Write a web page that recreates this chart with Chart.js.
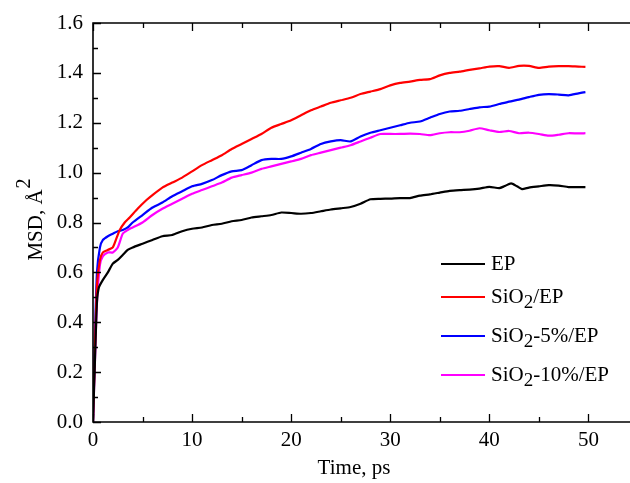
<!DOCTYPE html>
<html>
<head>
<meta charset="utf-8">
<script src="https://cdn.jsdelivr.net/npm/chart.js@4/dist/chart.umd.min.js"></script>
<style>
  html, body { margin: 0; padding: 0; background: #fff; overflow: hidden; }
  #msdChart { display: block; }
</style>
</head>
<body>
<canvas id="msdChart" width="630" height="483"></canvas>
<script>
// tick labels
const xTicks = [0, 10, 20, 30, 40, 50];
const yTicks = [0, 0.2, 0.4, 0.6, 0.8, 1.0, 1.2, 1.4, 1.6];

// series names
const seriesNames = ['EP', 'SiO2/EP', 'SiO2-5%/EP', 'SiO2-10%/EP'];

// EP
const epTime = [0, 0.2, 0.4, 0.6, 1, 1.5, 2, 2.5, 3, 3.5, 4, 5, 6, 7, 8, 9, 10, 11, 12, 13, 14, 15, 16, 17, 18, 19, 20, 21, 22, 23, 24, 25, 26, 27, 28, 29, 30, 31, 32, 33, 34, 35, 36, 37, 38, 39, 40, 41, 41.5, 42.2, 42.8, 43.3, 44, 45, 46, 47, 48, 49, 49.7];
const epMsd = [0, 0.25, 0.48, 0.54, 0.57, 0.6, 0.635, 0.65, 0.67, 0.69, 0.7, 0.715, 0.73, 0.745, 0.75, 0.765, 0.775, 0.78, 0.79, 0.795, 0.805, 0.81, 0.82, 0.825, 0.83, 0.84, 0.838, 0.835, 0.838, 0.845, 0.852, 0.857, 0.862, 0.875, 0.893, 0.895, 0.896, 0.898, 0.898, 0.908, 0.913, 0.92, 0.927, 0.93, 0.932, 0.936, 0.943, 0.938, 0.945, 0.957, 0.945, 0.934, 0.94, 0.945, 0.95, 0.948, 0.942, 0.942, 0.942];

// SiO2/EP
const sioTime = [0, 0.2, 0.4, 0.7, 1, 1.5, 2, 2.4, 2.7, 3.2, 3.7, 4.5, 5.4, 6, 7, 8, 9, 10, 11, 12, 13, 14, 15, 16, 17, 18, 19, 20, 21, 22, 23, 24, 25, 26, 27, 28, 29, 30, 31, 32, 33, 34, 35, 36, 37, 38, 39, 40, 41, 42, 43, 44, 45, 46, 47, 48, 49, 49.7];
const sioMsd = [0, 0.3, 0.55, 0.65, 0.68, 0.69, 0.7, 0.74, 0.77, 0.8, 0.82, 0.855, 0.89, 0.91, 0.94, 0.96, 0.98, 1.005, 1.03, 1.05, 1.07, 1.095, 1.115, 1.135, 1.155, 1.18, 1.195, 1.21, 1.23, 1.25, 1.265, 1.28, 1.29, 1.3, 1.315, 1.325, 1.335, 1.35, 1.36, 1.365, 1.372, 1.375, 1.39, 1.4, 1.405, 1.412, 1.418, 1.425, 1.427, 1.42, 1.428, 1.428, 1.42, 1.425, 1.427, 1.427, 1.425, 1.424];

// SiO2-5%/EP
const sio5Time = [0, 0.2, 0.4, 0.7, 1, 1.5, 2, 2.5, 3, 3.5, 4, 5, 6, 7, 8, 9, 10, 11, 12, 13, 14, 15, 16, 17, 18, 19, 20, 21, 22, 23, 24, 25, 26, 27, 28, 29, 30, 31, 32, 33, 34, 35, 36, 37, 38, 39, 40, 41, 42, 43, 44, 45, 46, 47, 48, 49, 49.7];
const sio5Msd = [0, 0.35, 0.6, 0.7, 0.73, 0.745, 0.755, 0.765, 0.77, 0.78, 0.8, 0.83, 0.86, 0.88, 0.905, 0.925, 0.945, 0.955, 0.97, 0.99, 1.005, 1.01, 1.03, 1.05, 1.055, 1.055, 1.065, 1.08, 1.095, 1.115, 1.125, 1.13, 1.125, 1.145, 1.16, 1.17, 1.18, 1.19, 1.2, 1.205, 1.22, 1.235, 1.245, 1.248, 1.255, 1.262, 1.265, 1.275, 1.285, 1.293, 1.303, 1.312, 1.315, 1.313, 1.31, 1.318, 1.323];

// SiO2-10%/EP
const sio10Time = [0, 0.2, 0.4, 0.7, 1, 1.5, 2, 2.5, 3, 3.5, 4, 5, 6, 7, 8, 9, 10, 11, 12, 13, 14, 15, 16, 17, 18, 19, 20, 21, 22, 23, 24, 25, 26, 27, 28, 29, 30, 31, 32, 33, 34, 35, 36, 37, 38, 39, 40, 41, 42, 43, 44, 45, 46, 47, 48, 49, 49.7];
const sio10Msd = [0, 0.25, 0.48, 0.63, 0.665, 0.68, 0.68, 0.7, 0.755, 0.77, 0.78, 0.8, 0.83, 0.855, 0.875, 0.895, 0.915, 0.93, 0.945, 0.96, 0.98, 0.99, 1.0, 1.015, 1.025, 1.035, 1.045, 1.055, 1.07, 1.08, 1.09, 1.1, 1.11, 1.125, 1.14, 1.155, 1.155, 1.155, 1.156, 1.155, 1.15, 1.158, 1.162, 1.162, 1.168, 1.178, 1.17, 1.163, 1.167, 1.158, 1.16, 1.155, 1.148, 1.152, 1.158, 1.157, 1.158];

const colors = ['#000000', '#ff0000', '#0000ff', '#ff00ff'];

function toPoints(t, v) {
    return t.map((x, i) => ({ x: x, y: v[i] }));
}

const FONT = '"Liberation Serif", "Times New Roman", serif';
const FS = 21;

// text with a lowered "2" for SiO2
function drawSubText(ctx, text, x, y) {
    const parts = text.split('2');
    let cx = x;
    parts.forEach((p, i) => {
        ctx.font = FS + 'px ' + FONT;
        ctx.fillText(p, cx, y);
        cx += ctx.measureText(p).width;
        if (i < parts.length - 1) {
            ctx.font = (FS - 2) + 'px ' + FONT;
            ctx.fillText('2', cx, y + 6);
            cx += ctx.measureText('2').width;
        }
    });
}

const framePlugin = {
    id: 'frame',
    afterDraw(chart) {
        const ctx = chart.ctx;
        const a = chart.chartArea;
        const xs = chart.scales.x;
        const ys = chart.scales.y;
        ctx.save();
        ctx.strokeStyle = '#000';
        ctx.lineWidth = 1.6;
        ctx.beginPath();
        ctx.moveTo(a.right + 2, a.top);
        ctx.lineTo(a.left, a.top);
        ctx.lineTo(a.left, a.bottom);
        ctx.lineTo(a.right + 2, a.bottom);
        ctx.stroke();

        // inward ticks
        ctx.lineWidth = 1.3;
        ctx.beginPath();
        for (let v = 0; v <= 50; v += 5) {
            const px = Math.round(xs.getPixelForValue(v)) + 0.5;
            const len = v % 10 === 0 ? 8 : 5;
            ctx.moveTo(px, a.bottom); ctx.lineTo(px, a.bottom - len);
            ctx.moveTo(px, a.top); ctx.lineTo(px, a.top + len);
        }
        for (let k = 0; k <= 16; k++) {
            const py = Math.round(ys.getPixelForValue(k / 10)) + 0.5;
            const len = k % 2 === 0 ? 8 : 5;
            ctx.moveTo(a.left, py); ctx.lineTo(a.left + len, py);
        }
        ctx.stroke();

        // axis titles
        ctx.fillStyle = '#000';
        ctx.font = FS + 'px ' + FONT;
        ctx.textBaseline = 'middle';
        ctx.textAlign = 'center';
        ctx.fillText('Time, ps', 354, 468);

        ctx.save();
        ctx.translate(32, 220);
        ctx.rotate(-Math.PI / 2);
        ctx.textAlign = 'left';
        const main = 'MSD, Å';
        const w = ctx.measureText(main).width;
        ctx.font = (FS - 1) + 'px ' + FONT;
        const w2 = ctx.measureText('2').width;
        const start = -(w + w2) / 2;
        ctx.font = FS + 'px ' + FONT;
        ctx.fillText(main, start, 4);
        ctx.font = (FS - 1) + 'px ' + FONT;
        ctx.fillText('2', start + w + 1, -7);
        ctx.restore();

        // legend
        const legendY = [264, 297, 336, 375];
        ctx.textAlign = 'left';
        ctx.textBaseline = 'middle';
        seriesNames.forEach((name, i) => {
            ctx.strokeStyle = colors[i];
            ctx.lineWidth = 2;
            ctx.beginPath();
            ctx.moveTo(441, legendY[i]);
            ctx.lineTo(485, legendY[i]);
            ctx.stroke();
            ctx.fillStyle = '#000';
            drawSubText(ctx, name, 491, legendY[i]);
        });
        ctx.restore();
    }
};

const ctx = document.getElementById('msdChart').getContext('2d');
const msdChart = new Chart(ctx, {
    type: 'line',
    data: {
        datasets: [
            { label: seriesNames[0], data: toPoints(epTime, epMsd) },
            { label: seriesNames[1], data: toPoints(sioTime, sioMsd) },
            { label: seriesNames[2], data: toPoints(sio5Time, sio5Msd) },
            { label: seriesNames[3], data: toPoints(sio10Time, sio10Msd) }
        ].map((d, i) => Object.assign(d, {
            borderColor: colors[i],
            borderWidth: 2.2,
            pointRadius: 0,
            fill: false,
            tension: 0.2
        }))
    },
    options: {
        responsive: false,
        animation: false,
        layout: { padding: { top: 23, right: 0, left: 0, bottom: 0 } },
        plugins: {
            legend: { display: false },
            tooltip: { enabled: false }
        },
        scales: {
            x: {
                type: 'linear',
                min: 0,
                max: 54.2,
                afterBuildTicks: s => { s.ticks = xTicks.map(v => ({ value: v })); },
                afterFit: s => { s.height = 61; },
                grid: { display: false, drawTicks: false, tickLength: 0 },
                border: { display: false },
                ticks: {
                    padding: 6,
                    color: '#000',
                    font: { family: FONT, size: FS },
                    maxRotation: 0,
                    callback: v => String(v)
                }
            },
            y: {
                type: 'linear',
                min: 0,
                max: 1.6,
                afterBuildTicks: s => { s.ticks = yTicks.map(v => ({ value: v })); },
                afterFit: s => { s.width = 93; },
                grid: { display: false, drawTicks: false, tickLength: 0 },
                border: { display: false },
                ticks: {
                    padding: 10,
                    color: '#000',
                    font: { family: FONT, size: FS },
                    callback: v => v.toFixed(1)
                }
            }
        }
    },
    plugins: [framePlugin]
});
</script>
</body>
</html>
